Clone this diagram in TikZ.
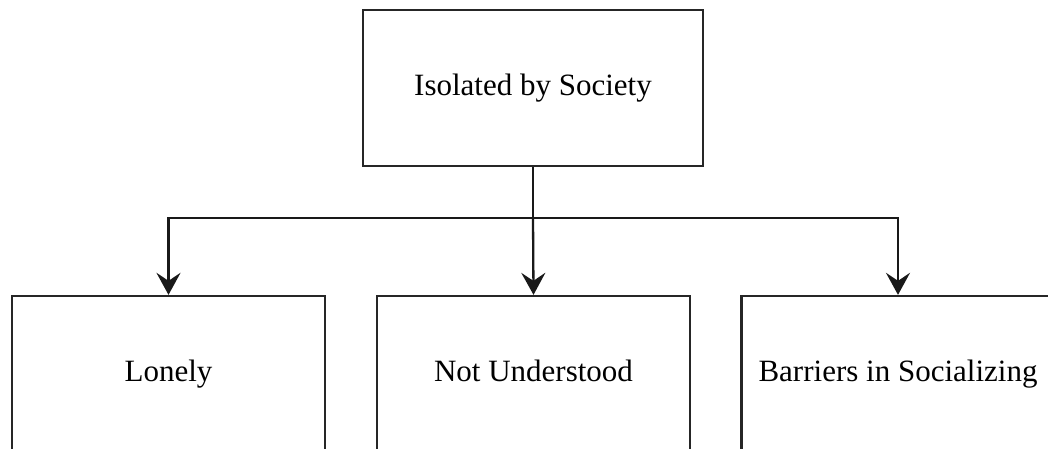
\documentclass[tikz,border=0pt]{standalone}
\usepackage{fontspec}
\setmainfont{Liberation Serif}
\usetikzlibrary{arrows.meta}
\begin{document}
\begin{tikzpicture}[x=1pt,y=-1pt,
  box/.style={draw=black!85,line width=2.3pt,fill=white,inner sep=0pt,
    font=\fontsize{31}{36}\selectfont,align=center,text height=21pt,text depth=6pt},
  arr/.style={draw=black!90,line width=2.3pt,
    -{Stealth[length=22pt,width=24pt,inset=8pt]}}]
\useasboundingbox (0,0) rectangle (1048,449);
\clip (0,0) rectangle (1048,449);
\fill[white] (0,0) rectangle (1048,449);
\node[box,minimum width=340pt,minimum height=156pt] (top) at (533,88) {Isolated by Society};
\node[box,minimum width=313pt,minimum height=156pt] (lonely) at (168.5,374) {Lonely};
\node[box,minimum width=313pt,minimum height=156pt] (nu) at (533.5,374) {Not Understood};
\node[box,minimum width=313pt,minimum height=156pt] (bs) at (898,374) {Barriers in Socializing};
\coordinate (j) at (533,218);
\draw[line width=2.3pt,draw=black!90] (top.south) -- (j);
\draw[arr] (j) -| (lonely.north);
\draw[arr] (j) -- (nu.north);
\draw[arr] (j) -| (bs.north);
\end{tikzpicture}
\end{document}
